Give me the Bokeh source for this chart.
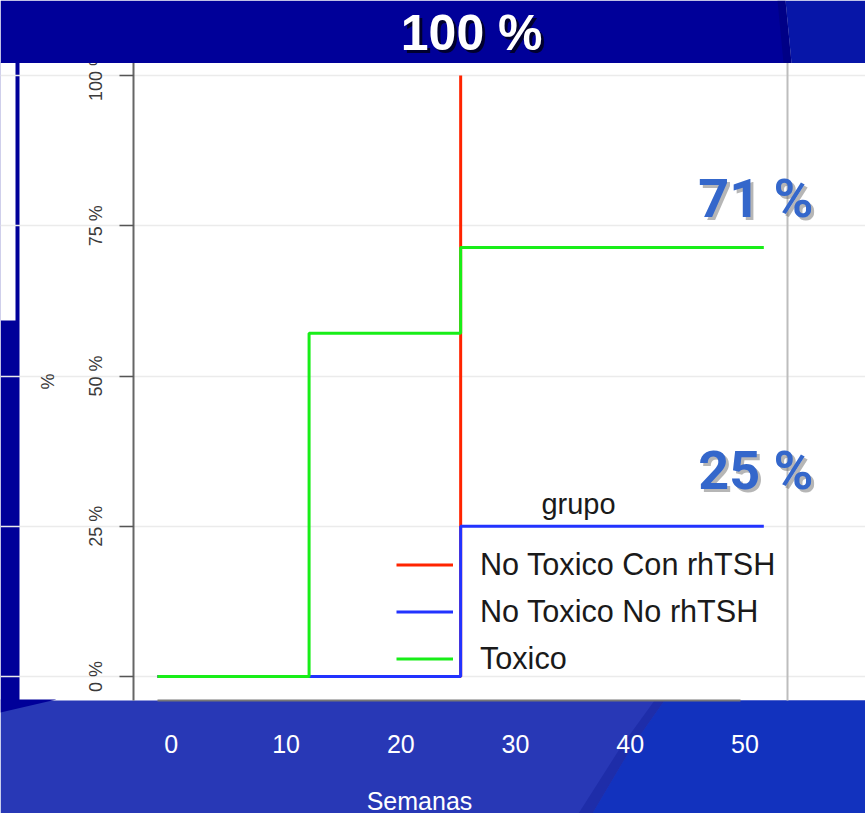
from bokeh.plotting import figure
from bokeh.models import (Range1d, FixedTicker, Legend, LegendItem, Label,
                          PolyAnnotation, LinearAxis, Grid)
from bokeh.embed import file_html
from bokeh.resources import INLINE

# ---- data -------------------------------------------------------------
semanas_ticks = [0, 10, 20, 30, 40, 50]
pct_ticks = [0, 25, 50, 75, 100]
pct_labels = ["0 %", "25 %", "50 %", "75 %", "100 %"]

grupos = ["No Toxico Con rhTSH", "No Toxico No rhTSH", "Toxico"]
colores = ["#ff2400", "#2233ff", "#18ee18"]

# cumulative percentage per group (step after each time point, weeks)
tiempo_con = [0, 26]
pct_con = [0, 100]
tiempo_no = [0, 26, 52]
pct_no = [0, 25, 25]
tiempo_tox = [0, 13, 26, 52]
pct_tox = [0, 57.1, 71.4, 71.4]

# ---- page geometry (pixels) ------------------------------------------
W, H = 865, 813
FRAME_L, FRAME_R, FRAME_T, FRAME_B = 133, 787, 62, 700
X0_PX, X50_PX = 157, 740          # where week 0 and week 50 sit
Y0_PX, Y100_PX = 676, 75          # where 0 % and 100 % sit
px_wk = (X50_PX - X0_PX) / 50.0
px_pct = (Y0_PX - Y100_PX) / 100.0
# the white week numbers on the lower band are spread slightly wider
LBL0_PX, LBL_WK = 170.8, 11.474


def dx(px):
    return (px - X0_PX) / px_wk


def dy(py):
    return (Y0_PX - py) / px_pct


# the plotting frame spans the whole slide; the chart box sits inside it
p = figure(width=W, height=H,
           x_range=Range1d(dx(0), dx(W)), y_range=Range1d(dy(H), dy(0)),
           output_backend="svg", toolbar_location=None,
           x_axis_location=None, y_axis_location=None,
           min_border=0, min_border_left=0, min_border_right=0,
           min_border_top=0, min_border_bottom=0,
           background_fill_color="white", border_fill_color="white",
           outline_line_color=None)
p.center = [r for r in p.center if not isinstance(r, Grid)]
p.extra_x_ranges = {"rotulos": Range1d((0 - LBL0_PX) / LBL_WK, (W - LBL0_PX) / LBL_WK)}


# ---- slide background shapes -----------------------------------------
def poly(pts, color, level="underlay", alpha=1.0):
    a = PolyAnnotation(xs=[dx(x) for x, _ in pts], ys=[dy(y) for _, y in pts],
                       fill_color=color, fill_alpha=alpha, line_color=None,
                       level=level)
    p.add_layout(a)


# lower band with its darker left corner and brighter right panel
poly([(0, FRAME_B), (W, FRAME_B), (W, H), (0, H)], "#2838b6")
poly([(654, FRAME_B), (664, FRAME_B), (631, 747), (592, H), (578, H), (620, 747)],
     "#1c2aa6", alpha=0.8)
poly([(664, FRAME_B), (W, FRAME_B), (W, H), (592, H), (631, 747)], "#1232be")
poly([(0, FRAME_B - 1), (56, FRAME_B - 1), (0, 712)], "#000099")
# left strip
poly([(0, FRAME_T), (19, FRAME_T), (19, FRAME_B), (0, FRAME_B)], "#000099")
poly([(0, FRAME_T), (15, FRAME_T), (15, 320), (0, 320)], "white")

# ---- grid and axes -------------------------------------------------------
p.add_layout(Grid(dimension=1, ticker=FixedTicker(ticks=pct_ticks),
                  bounds=(dx(FRAME_L), dx(FRAME_R)),
                  grid_line_color="#ebebeb", grid_line_width=1.5))

ya = LinearAxis(ticker=FixedTicker(ticks=pct_ticks),
                fixed_location=dx(FRAME_L), bounds=(dy(FRAME_B), dy(FRAME_T)))
ya.major_label_overrides = {t: s for t, s in zip(pct_ticks, pct_labels)}
ya.major_label_orientation = "vertical"
ya.major_label_text_font = "Liberation Sans"
ya.major_label_text_font_size = "18px"
ya.major_label_text_color = "#3a3a3a"
ya.major_label_standoff = 14
ya.major_tick_out = 14
ya.major_tick_in = 0
ya.minor_tick_line_color = None
ya.major_tick_line_color = "#555555"
ya.major_tick_line_width = 1.5
ya.axis_line_color = "#666666"
ya.axis_line_width = 2
ya.axis_label = "%"
ya.axis_label_text_font = "Liberation Sans"
ya.axis_label_text_font_size = "18px"
ya.axis_label_text_font_style = "normal"
ya.axis_label_text_color = "#3a3a3a"
ya.axis_label_standoff = 25
p.add_layout(ya, "left")

# chart's own x axis line along the bottom of the box (labels sit on the band)
xa = LinearAxis(ticker=FixedTicker(ticks=[]),
                fixed_location=dy(FRAME_B),
                bounds=(semanas_ticks[0], semanas_ticks[-1]),
                major_tick_line_color=None, minor_tick_line_color=None,
                axis_line_color="#777777", axis_line_width=2)
p.add_layout(xa, "below")

# week numbers on the blue band
xl = LinearAxis(ticker=FixedTicker(ticks=semanas_ticks), x_range_name="rotulos",
                fixed_location=dy(FRAME_B),
                major_tick_line_color=None, minor_tick_line_color=None,
                axis_line_color=None,
                major_label_text_font="Liberation Sans",
                major_label_text_font_size="25px",
                major_label_text_color="white",
                major_label_standoff=28)
p.add_layout(xl, "below")

# right edge of the chart box
ra = LinearAxis(ticker=FixedTicker(ticks=[]), fixed_location=dx(FRAME_R),
                bounds=(dy(FRAME_B), dy(FRAME_T)),
                major_tick_line_color=None, minor_tick_line_color=None,
                axis_line_color="#bdbdbd", axis_line_width=2)
p.add_layout(ra, "right")

# ---- series --------------------------------------------------------------
r_con = p.step(tiempo_con, pct_con, mode="after", line_color=colores[0], line_width=3)
r_no = p.step(tiempo_no, pct_no, mode="after", line_color=colores[1], line_width=3)
r_tox = p.step(tiempo_tox, pct_tox, mode="after", line_color=colores[2], line_width=3)

legend = Legend(items=[LegendItem(label=g, renderers=[r])
                       for g, r in zip(grupos, [r_con, r_no, r_tox])],
                location=(396, H - FRAME_B + 18), orientation="vertical",
                padding=0, margin=0, spacing=0,
                glyph_width=57, glyph_height=47, label_height=47, label_standoff=27,
                label_text_font="Liberation Sans", label_text_font_size="30.6px",
                label_text_color="#1a1a1a",
                background_fill_alpha=0, border_line_alpha=0)
p.add_layout(legend)

p.add_layout(Label(x=dx(578), y=dy(503), text="grupo", text_align="center",
                   text_baseline="middle", text_font="Liberation Sans",
                   text_font_size="29px", text_color="#1a1a1a"))

p.add_layout(Label(x=dx(419), y=dy(800), text="Semanas", text_align="center",
                   text_baseline="middle", text_font="Liberation Sans",
                   text_font_size="25px", text_color="white"))


# ---- headline band and value call-outs -----------------------------------
poly([(0, 0), (785, 0), (791, FRAME_T + 0.5), (0, FRAME_T + 0.5)], "#000099",
     level="annotation")
poly([(785, 0), (W, 0), (W, FRAME_T + 0.5), (791, FRAME_T + 0.5)], "#0716a8",
     level="annotation")
poly([(777, 0), (785, 0), (791, FRAME_T + 0.5), (783, FRAME_T + 0.5)], "#00007a",
     level="annotation", alpha=0.6)


def shadow_text(x, y, text, xo, yo, color, shadow, size, font, sdx=3, sdy=3,
                salpha=0.55):
    p.add_layout(Label(x=x, y=y, x_offset=xo + sdx, y_offset=yo - sdy, text=text,
                       text_align="center", text_baseline="middle",
                       text_font=font, text_font_style="bold",
                       text_font_size=size, text_color=shadow, text_alpha=salpha))
    p.add_layout(Label(x=x, y=y, x_offset=xo, y_offset=yo, text=text,
                       text_align="center", text_baseline="middle",
                       text_font=font, text_font_style="bold",
                       text_font_size=size, text_color=color))


shadow_text(tiempo_con[-1], pct_con[-1], f"{pct_con[-1]:.0f} %", 11, 43,
            "white", "#000000", "50px", "Liberation Sans", salpha=0.7)
shadow_text(tiempo_tox[-1], pct_tox[-1], f"{pct_tox[-1]:.0f} %", -8, 49,
            "#3467cb", "#7a7a7a", "54px", "Roboto")
shadow_text(tiempo_no[-1], pct_no[-1], f"{pct_no[-1]:.0f} %", -8, 56,
            "#3467cb", "#7a7a7a", "54px", "Roboto")

open("out.html", "w").write(file_html(p, INLINE))
